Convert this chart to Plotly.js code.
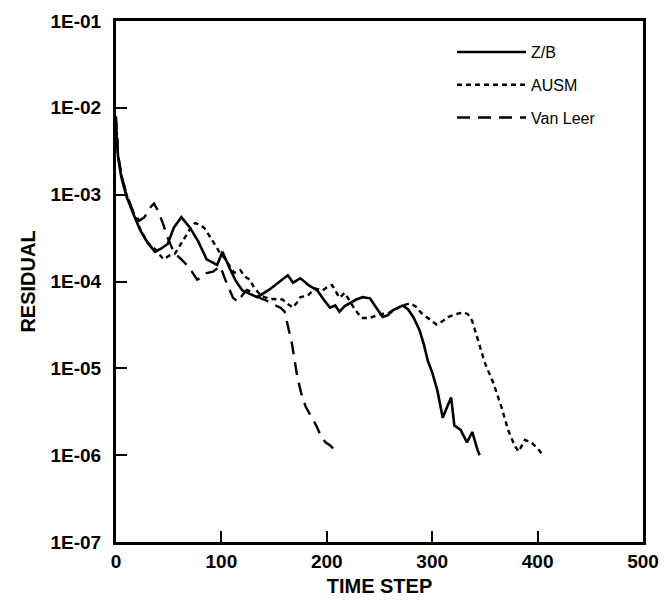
<!DOCTYPE html>
<html>
<head>
<meta charset="utf-8">
<script src="https://cdn.plot.ly/plotly-3.0.1.min.js"></script>
<style>html,body{margin:0;padding:0;background:#fff;}#chart{width:667px;height:601px;}</style>
</head>
<body>
<div id="chart"></div>
<script>
// ---- data ----
var zbStep = [0, 2, 5, 10, 16, 23, 30, 37, 43, 49, 55, 62, 70, 78, 86, 96, 101, 108, 114, 120, 127, 134, 145, 155, 163, 168, 175, 183, 191, 197, 203, 208, 212, 217, 222, 228, 234, 241, 246, 250, 253, 258, 263, 268, 272, 277, 282, 288, 292, 296, 300, 305, 310, 315, 318, 321, 327, 333, 338, 343, 345];
var zbRes = [6e-3, 2.7e-3, 1.6e-3, 9.5e-4, 6.2e-4, 3.9e-4, 2.8e-4, 2.2e-4, 2.4e-4, 2.7e-4, 4.2e-4, 5.5e-4, 4.2e-4, 2.9e-4, 1.8e-4, 1.55e-4, 2.2e-4, 1.4e-4, 1e-4, 7.9e-5, 7.2e-5, 6.6e-5, 8e-5, 1e-4, 1.18e-4, 9.7e-5, 1.09e-4, 9e-5, 7.9e-5, 6.2e-5, 5e-5, 5.3e-5, 4.5e-5, 5.2e-5, 5.6e-5, 6.2e-5, 6.6e-5, 6.4e-5, 5.2e-5, 4.4e-5, 3.9e-5, 4.1e-5, 4.7e-5, 5e-5, 5.3e-5, 4.8e-5, 3.9e-5, 2.75e-5, 1.9e-5, 1.2e-5, 9e-6, 5.5e-6, 2.7e-6, 3.8e-6, 4.6e-6, 2.2e-6, 1.95e-6, 1.4e-6, 1.85e-6, 1.15e-6, 1e-6];

var ausmStep = [0, 2, 5, 10, 16, 23, 30, 38, 45, 51, 56, 61, 66, 71, 75, 80, 84, 89, 94, 99, 103, 108, 112, 118, 122, 127, 131, 137, 141, 146, 152, 158, 163, 168, 172, 175, 182, 189, 196, 201, 205, 208, 212, 217, 222, 227, 233, 241, 250, 258, 265, 272, 279, 284, 290, 298, 304, 310, 315, 322, 329, 334, 338, 343, 350, 358, 366, 372, 378, 382, 388, 394, 400, 405];
var ausmRes = [7e-3, 2.8e-3, 1.7e-3, 1e-3, 6.5e-4, 4e-4, 2.8e-4, 2.3e-4, 1.8e-4, 2e-4, 2.1e-4, 2.6e-4, 3.3e-4, 4.2e-4, 4.7e-4, 4.5e-4, 4.1e-4, 3.3e-4, 2.6e-4, 2.1e-4, 1.85e-4, 1.5e-4, 1.26e-4, 1.35e-4, 1.15e-4, 1.05e-4, 8.5e-5, 7e-5, 6.6e-5, 6.3e-5, 6.2e-5, 6.2e-5, 5.5e-5, 5e-5, 5.8e-5, 6.6e-5, 6.9e-5, 8.3e-5, 7.9e-5, 8.7e-5, 9.1e-5, 8e-5, 6.5e-5, 7.4e-5, 6e-5, 4.7e-5, 3.8e-5, 3.8e-5, 4.2e-5, 4.3e-5, 4.8e-5, 5.3e-5, 5.6e-5, 5.2e-5, 4.3e-5, 3.6e-5, 3.2e-5, 3.5e-5, 3.9e-5, 4.2e-5, 4.4e-5, 4.2e-5, 3.5e-5, 2.2e-5, 1.15e-5, 6.8e-6, 3.5e-6, 1.95e-6, 1.3e-6, 1.1e-6, 1.5e-6, 1.4e-6, 1.2e-6, 1e-6];

var vlStep = [0, 2, 5, 10, 16, 22, 27, 32, 36, 40, 45, 49, 54, 58, 62, 66, 72, 77, 80, 86, 92, 99, 103, 108, 111, 116, 120, 124, 130, 136, 143, 150, 156, 160, 164, 167, 172, 176, 180, 185, 190, 195, 199, 203, 206];
var vlRes = [8e-3, 2.9e-3, 1.7e-3, 1e-3, 6.5e-4, 5e-4, 5.5e-4, 7e-4, 7.9e-4, 6.5e-4, 4.5e-4, 3.2e-4, 2.3e-4, 2e-4, 1.8e-4, 1.6e-4, 1.3e-4, 1.05e-4, 1.1e-4, 1.25e-4, 1.3e-4, 1.5e-4, 1.1e-4, 8e-5, 6.5e-5, 5.8e-5, 7e-5, 8e-5, 7.5e-5, 6.5e-5, 6e-5, 5.4e-5, 5e-5, 4.5e-5, 2.8e-5, 1.9e-5, 8e-6, 5e-6, 3.6e-6, 2.8e-6, 2.2e-6, 1.6e-6, 1.4e-6, 1.3e-6, 1.2e-6];

var seriesNames = ["Z/B", "AUSM", "Van Leer"];
var xTickVals = [0, 100, 200, 300, 400, 500];
var yTickVals = [1e-1, 1e-2, 1e-3, 1e-4, 1e-5, 1e-6, 1e-7];
var yTickText = ["1E-01", "1E-02", "1E-03", "1E-04", "1E-05", "1E-06", "1E-07"];
var xTitle = "TIME STEP";
var yTitle = "RESIDUAL";

// ---- chart ----
var FONT = "Liberation Sans, Arial, Helvetica, sans-serif";
var traces = [
  {x: zbStep, y: zbRes, name: seriesNames[0], mode: "lines", legendgroup: "a",
   line: {color: "#000", width: 2.6, dash: "solid"}},
  {x: ausmStep, y: ausmRes, name: seriesNames[1], mode: "lines", legendgroup: "b",
   line: {color: "#000", width: 2.4, dash: "5px,4px"}},
  {x: vlStep, y: vlRes, name: seriesNames[2], mode: "lines", legendgroup: "c",
   line: {color: "#000", width: 2.4, dash: "13px,8px"}}
];

var layout = {
  width: 667, height: 601,
  paper_bgcolor: "#fff", plot_bgcolor: "#fff",
  margin: {l: 116, r: 24, t: 21, b: 59, autoexpand: false},
  showlegend: true,
  legend: {x: 0.6376, y: 0.973, xanchor: "left", yanchor: "top",
    bgcolor: "rgba(0,0,0,0)", borderwidth: 0, traceorder: "grouped",
    tracegroupgap: 9, itemwidth: 69,
    font: {family: FONT, size: 16, color: "#000"}},
  xaxis: {
    type: "linear", range: [0, 500], autorange: false,
    tickvals: xTickVals, ticktext: xTickVals.map(String),
    ticks: "inside", ticklen: 11, tickwidth: 2, tickcolor: "#000",
    showline: true, linewidth: 3, linecolor: "#000", mirror: true,
    showgrid: false, zeroline: false,
    tickfont: {family: FONT, size: 19, color: "#000", weight: "bold"},
    title: {text: xTitle, standoff: 9, font: {family: FONT, size: 20, color: "#000", weight: "bold"}},
    automargin: false
  },
  yaxis: {
    type: "log", range: [-7, -1], autorange: false,
    tickvals: yTickVals, ticktext: yTickText,
    ticks: "inside", ticklen: 11, tickwidth: 2, tickcolor: "#000",
    showline: true, linewidth: 3, linecolor: "#000", mirror: true,
    showgrid: false, zeroline: false, ticklabelstandoff: 8,
    tickfont: {family: FONT, size: 19, color: "#000", weight: "bold"},
    title: {text: yTitle, standoff: 10, font: {family: FONT, size: 20, color: "#000", weight: "bold"}},
    automargin: false
  }
};

Plotly.newPlot("chart", traces, layout, {displayModeBar: false, staticPlot: true});
</script>
</body>
</html>
